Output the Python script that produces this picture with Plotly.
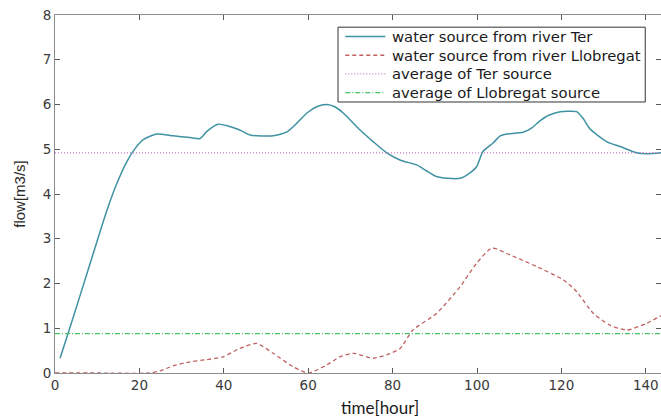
import plotly.graph_objects as go

# Hourly flow readings (hours, m3/s)
ter_hours = [1.2, 4.0, 8.0, 12.0, 14.5, 17.0, 19.0, 21.0, 24.1, 28.0, 32.0, 34.4,
             36.0, 38.6, 41.0, 43.8, 46.2, 51.7, 55.0, 57.5, 59.7, 62.0, 64.4, 66.3,
             68.3, 72.3, 75.5, 78.6, 82.0, 85.7, 88.0, 90.4, 93.0, 96.0, 98.0, 99.9,
             101.4, 103.8, 105.5, 107.0, 110.9, 113.0, 115.0, 117.0, 119.7, 121.5,
             123.6, 125.2, 126.8, 130.7, 133.9, 137.8, 140.5, 143.6]
ter_flow = [0.33, 1.15, 2.35, 3.55, 4.2, 4.72, 5.02, 5.22, 5.34, 5.30, 5.26, 5.24,
            5.40, 5.56, 5.52, 5.43, 5.32, 5.30, 5.39, 5.60, 5.81, 5.95, 6.00, 5.95,
            5.81, 5.43, 5.16, 4.92, 4.75, 4.65, 4.52, 4.39, 4.35, 4.35, 4.45, 4.61,
            4.95, 5.14, 5.30, 5.34, 5.38, 5.48, 5.64, 5.76, 5.84, 5.85,
            5.84, 5.68, 5.45, 5.17, 5.06, 4.92, 4.90, 4.92]

llob_hours = [0.0, 10.0, 22.5, 25.0, 28.0, 32.0, 36.0, 39.8, 43.8, 47.8, 51.7, 56.4,
              60.0, 64.4, 67.5, 70.7, 75.4, 79.0, 81.8, 84.8, 90.4, 96.0, 99.9, 103.5,
              107.8, 114.1, 120.5, 123.6, 127.6, 131.5, 135.5, 140.2, 143.6]
llob_flow = [0.0, 0.0, 0.0, 0.05, 0.16, 0.25, 0.30, 0.36, 0.55, 0.66, 0.44, 0.14,
             0.0, 0.18, 0.36, 0.44, 0.33, 0.42, 0.55, 0.96, 1.33, 1.93, 2.45, 2.79,
             2.64, 2.38, 2.08, 1.82, 1.33, 1.07, 0.96, 1.11, 1.28]

ter_mean = 4.92
llob_mean = 0.88
span = [0, 143.6]

tick_x = [0, 20, 40, 60, 80, 100, 120, 140]
tick_y = [0, 1, 2, 3, 4, 5, 6, 7, 8]

series_names = ["water source from river Ter",
                "water source from river Llobregat",
                "average of Ter source",
                "average of Llobregat source"]
series_colors = ["#3f92a2", "#bf6060", "#cc77cc", "#44c466"]
series_dash = ["solid", "4px,3px", "1px,2px", "5px,2px,1px,2px"]
series_width = [1.5, 1.3, 1.3, 1.3]

series_x = [ter_hours, llob_hours, span, span]
series_y = [ter_flow, llob_flow, [ter_mean, ter_mean], [llob_mean, llob_mean]]

fig = go.Figure()
for i in range(4):
    shape = "spline" if i < 2 else "linear"
    fig.add_trace(go.Scatter(
        x=series_x[i], y=series_y[i], mode="lines", name=series_names[i],
        line=dict(color=series_colors[i], width=series_width[i],
                  dash=series_dash[i], shape=shape, smoothing=0.6),
        showlegend=False))

axis_common = dict(
    showgrid=False, zeroline=False, showline=True, linecolor="#8c8c8c", linewidth=1,
    mirror="ticks", ticks="inside", ticklen=5, tickcolor="#5a5a5a",
    tickfont=dict(family="DejaVu Sans, sans-serif", size=13.5, color="#3a3a3a"),
)

# Boxed key in the upper right of the plot area (paper coordinates)
key_left, key_right = 0.467, 0.974
key_top, key_bottom = 0.966, 0.757
row_step = (key_top - key_bottom) / 4
sample_x0, sample_x1, text_x = 0.479, 0.545, 0.553

shapes = [dict(type="rect", xref="paper", yref="paper",
               x0=key_left, x1=key_right, y0=key_bottom, y1=key_top,
               line=dict(color="#333333", width=1), fillcolor="white", layer="above")]
annotations = []
for i in range(4):
    yc = key_top - row_step * (i + 0.5)
    shapes.append(dict(type="line", xref="paper", yref="paper",
                       x0=sample_x0, x1=sample_x1, y0=yc, y1=yc, layer="above",
                       line=dict(color=series_colors[i], width=series_width[i],
                                 dash=series_dash[i])))
    annotations.append(dict(text=series_names[i], xref="paper", yref="paper",
                            x=text_x, y=yc, xanchor="left", yanchor="middle",
                            showarrow=False,
                            font=dict(family="DejaVu Sans, sans-serif", size=14.8,
                                      color="#1a1a1a")))

annotations.append(dict(
    text="time[hour]", xref="paper", yref="paper",
    x=(380 - 55) / 606, y=0, yshift=-34, xanchor="center", yanchor="middle",
    showarrow=False,
    font=dict(family="Lato, Open Sans, sans-serif", size=17, color="#1a1a1a")))

fig.update_layout(
    width=661, height=417,
    margin=dict(l=55, r=0, t=15, b=44),
    plot_bgcolor="white", paper_bgcolor="white",
    showlegend=False,
    xaxis=dict(range=span, tickvals=tick_x, **axis_common),
    yaxis=dict(range=[0, 8], tickvals=tick_y, title=dict(
        text="flow[m3/s]", standoff=13,
        font=dict(family="Liberation Sans Narrow, Liberation Sans, Arial, sans-serif",
                  size=15, color="#2a2a2a")), **axis_common),
    shapes=shapes,
    annotations=annotations,
)

fig.write_html("out.html")
